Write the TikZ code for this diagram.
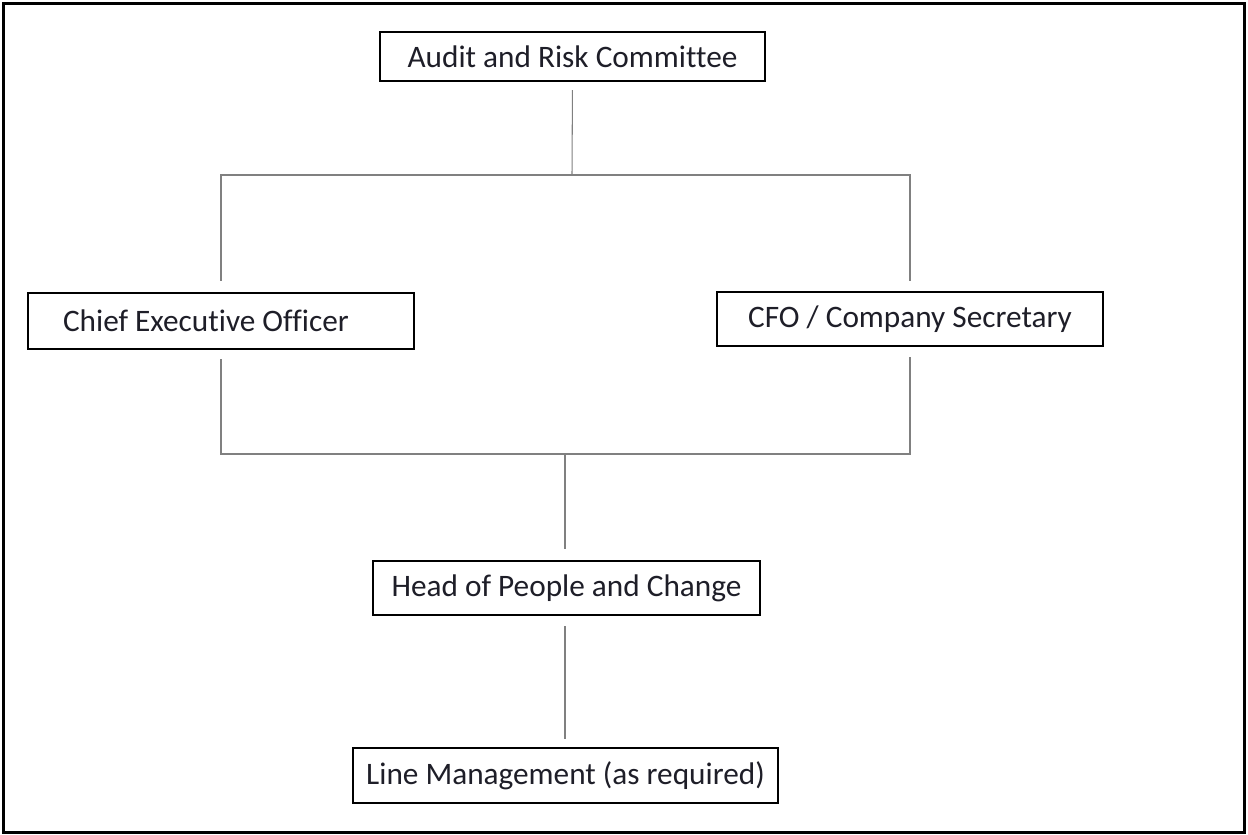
\documentclass[tikz,border=0pt]{standalone}
\usepackage{fontspec}
\setmainfont{Carlito}[Ligatures=NoCommon]
\usetikzlibrary{positioning,calc}
\definecolor{linkgray}{RGB}{128,128,128}
\definecolor{textdark}{RGB}{30,30,40}

\tikzset{
  box/.style={draw=black, line width=1.3pt, rectangle, text=textdark,
    font=\fontsize{17.8}{21}\selectfont, inner sep=0pt},
  link/.style={draw=linkgray, line width=0.6pt}
}

\begin{document}
\begin{tikzpicture}[x=0.02cm, y=-0.02cm]
\useasboundingbox (0,0) rectangle (1248,835);
\draw[line width=2pt] (3.5,3.5) rectangle (1244.5,832.5);

% boxes
\node[box, minimum width=7.7cm, minimum height=0.98cm] (arc) at (572.5,56.5) {Audit and Risk Committee};
\node[box, minimum width=7.72cm, minimum height=1.12cm, text width=6.32cm, align=flush left, inner xsep=0.7cm] (ceo) at (221,321) {Chief Executive Officer};
\node[box, minimum width=7.72cm, minimum height=1.08cm] (cfo) at (910,319) {CFO / Company Secretary};
\node[box, minimum width=7.74cm, minimum height=1.08cm] (head) at (566.5,588) {Head of People and Change};
\node[box, minimum width=8.5cm, minimum height=1.1cm] (line) at (565.5,775.5) {Line Management (as required)};

% junctions
\coordinate (jt) at (572,175);
\coordinate (jb) at (565,454);

% connectors
\draw[link, shorten <=0.16cm] (arc.south) -- (jt);
\draw[link, shorten <=0.22cm, shorten >=0.2cm] (ceo.north) |- (jt) -| (cfo.north);
\draw[link, shorten <=0.18cm, shorten >=0.2cm] (ceo.south) |- (jb) -| (cfo.south);
\draw[link, shorten >=0.22cm] (jb) -- (head.north -| jb);
\draw[link, shorten <=0.2cm, shorten >=0.16cm] (head.south -| jb) -- (line.north -| jb);
\end{tikzpicture}
\end{document}
